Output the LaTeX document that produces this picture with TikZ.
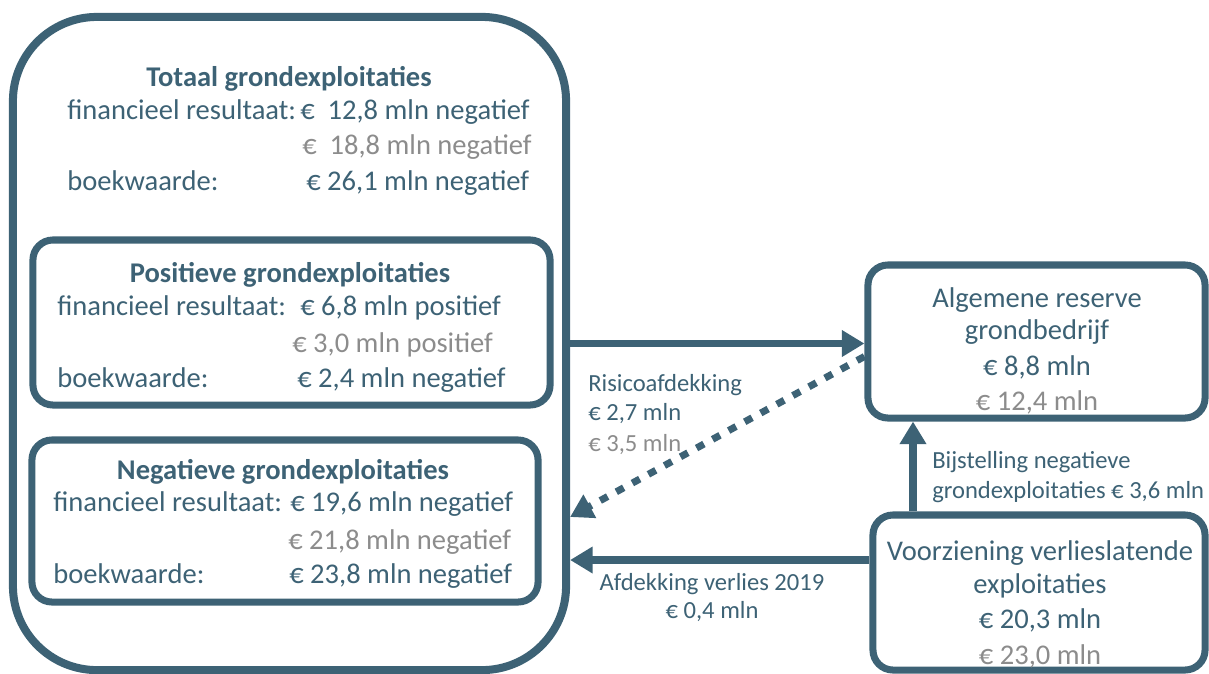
\documentclass[tikz,border=0pt]{standalone}
\usepackage{fontspec}
\setmainfont{Carlito}
\usetikzlibrary{positioning,arrows.meta,calc}
\definecolor{gbblue}{HTML}{3D6275}
\definecolor{gbgrey}{HTML}{8C8C8C}
\tikzset{pijl/.style={-{Triangle[length=16pt,width=18pt]},line width=5pt,draw=gbblue}}

\begin{document}
\begin{tikzpicture}[x=0.025cm,y=-0.025cm,
  kader/.style={draw=gbblue,line width=5pt,rounded corners=0.5cm,inner sep=0pt},
  txt/.style={text=gbblue,font=\fontsize{20.3}{24}\selectfont,inner sep=0pt,anchor=base west},
  kop/.style={txt,font=\fontsize{20.3}{24}\selectfont\bfseries,anchor=base},
  mid/.style={txt,anchor=base},
  lbl/.style={txt,font=\fontsize{17.5}{21}\selectfont},
  grijs/.style={text=gbgrey}]
  \useasboundingbox (0,0) rectangle (1209,673);

  % kaders
  \node[kader,line width=5.7pt,rounded corners=2.1cm,minimum width=13.825cm,minimum height=16.325cm] (tot) at (289.5,343.5) {};
  \node[kader,minimum width=12.925cm,minimum height=4.125cm] (pos) at (291.5,322.5) {};
  \node[kader,minimum width=12.65cm,minimum height=4.05cm] (neg) at (285,521) {};
  \node[kader,minimum width=8.425cm,minimum height=3.825cm] (alg) at (1036.5,341.5) {};
  \node[kader,minimum width=8.3cm,minimum height=3.875cm] (vz) at (1039,592.5) {};

  % totaal
  \node[kop] (totkop) at (289,86) {Totaal grondexploitaties};
  \node[txt] (totfr) at (67,119) {financieel resultaat:};
  \node[txt] (totfrw) at (300,119) {€\ \ 12,8 mln negatief};
  \node[txt,grijs] (totvj) at (302,154) {€\ \ 18,8 mln negatief};
  \node[txt] (totbw) at (67,190) {boekwaarde:};
  \node[txt] (totbww) at (306,190) {€ 26,1 mln negatief};

  % positief
  \node[kop] (poskop) at (290,282) {Positieve grondexploitaties};
  \node[txt] (posfr) at (57,315) {financieel resultaat:};
  \node[txt] (posfrw) at (300,315) {€ 6,8 mln positief};
  \node[txt,grijs] (posvj) at (292,352) {€ 3,0 mln positief};
  \node[txt] (posbw) at (57,387) {boekwaarde:};
  \node[txt] (posbww) at (297,387) {€ 2,4 mln negatief};

  % negatief
  \node[kop] (negkop) at (283,479) {Negatieve grondexploitaties};
  \node[txt] (negfr) at (53,511) {financieel resultaat:};
  \node[txt] (negfrw) at (290,511) {€ 19,6 mln negatief};
  \node[txt,grijs] (negvj) at (288,549) {€ 21,8 mln negatief};
  \node[txt] (negbw) at (53,583) {boekwaarde:};
  \node[txt] (negbww) at (289,583) {€ 23,8 mln negatief};

  % reserve
  \node[mid] (alg1) at (1037,307) {Algemene reserve};
  \node[mid] (alg2) at (1037,339) {grondbedrijf};
  \node[mid] (alg3) at (1037,375) {€ 8,8 mln};
  \node[mid,grijs] (alg4) at (1037,410) {€ 12,4 mln};

  % voorziening
  \node[mid] (vz1) at (1040,560) {Voorziening verlieslatende};
  \node[mid] (vz2) at (1040,593) {exploitaties};
  \node[mid] (vz3) at (1040,628) {€ 20,3 mln};
  \node[mid,grijs] (vz4) at (1040,664) {€ 23,0 mln};

  % pijlen
  \coordinate (vx) at (913,0);
  \coordinate (hB) at (0,517);
  \coordinate (hC) at (0,560);
  \coordinate (stipA) at ($(alg.west)+(0,15)$);
  \draw[pijl] (tot.east) -- (alg.west |- tot.east);
  \draw[pijl,dash pattern=on 6pt off 7pt] (stipA) -- (tot.east |- hB);
  \draw[pijl] (vz.west |- hC) -- (tot.east |- hC);
  \draw[pijl] (vz.north -| vx) -- (alg.south -| vx);

  % labels
  \node[lbl] (risk1) at (588,391) {Risicoafdekking};
  \node[lbl] (risk2) at (588,420) {€ 2,7 mln};
  \node[lbl,grijs] (risk3) at (588,451) {€ 3,5 mln};
  \node[lbl] (bij1) at (932,468) {Bijstelling negatieve};
  \node[lbl] (bij2) at (932,498) {grondexploitaties € 3,6 mln};
  \node[lbl,anchor=base] (afd1) at (712,590) {Afdekking verlies 2019};
  \node[lbl,anchor=base] (afd2) at (712,618) {€ 0,4 mln};
\end{tikzpicture}
\end{document}
